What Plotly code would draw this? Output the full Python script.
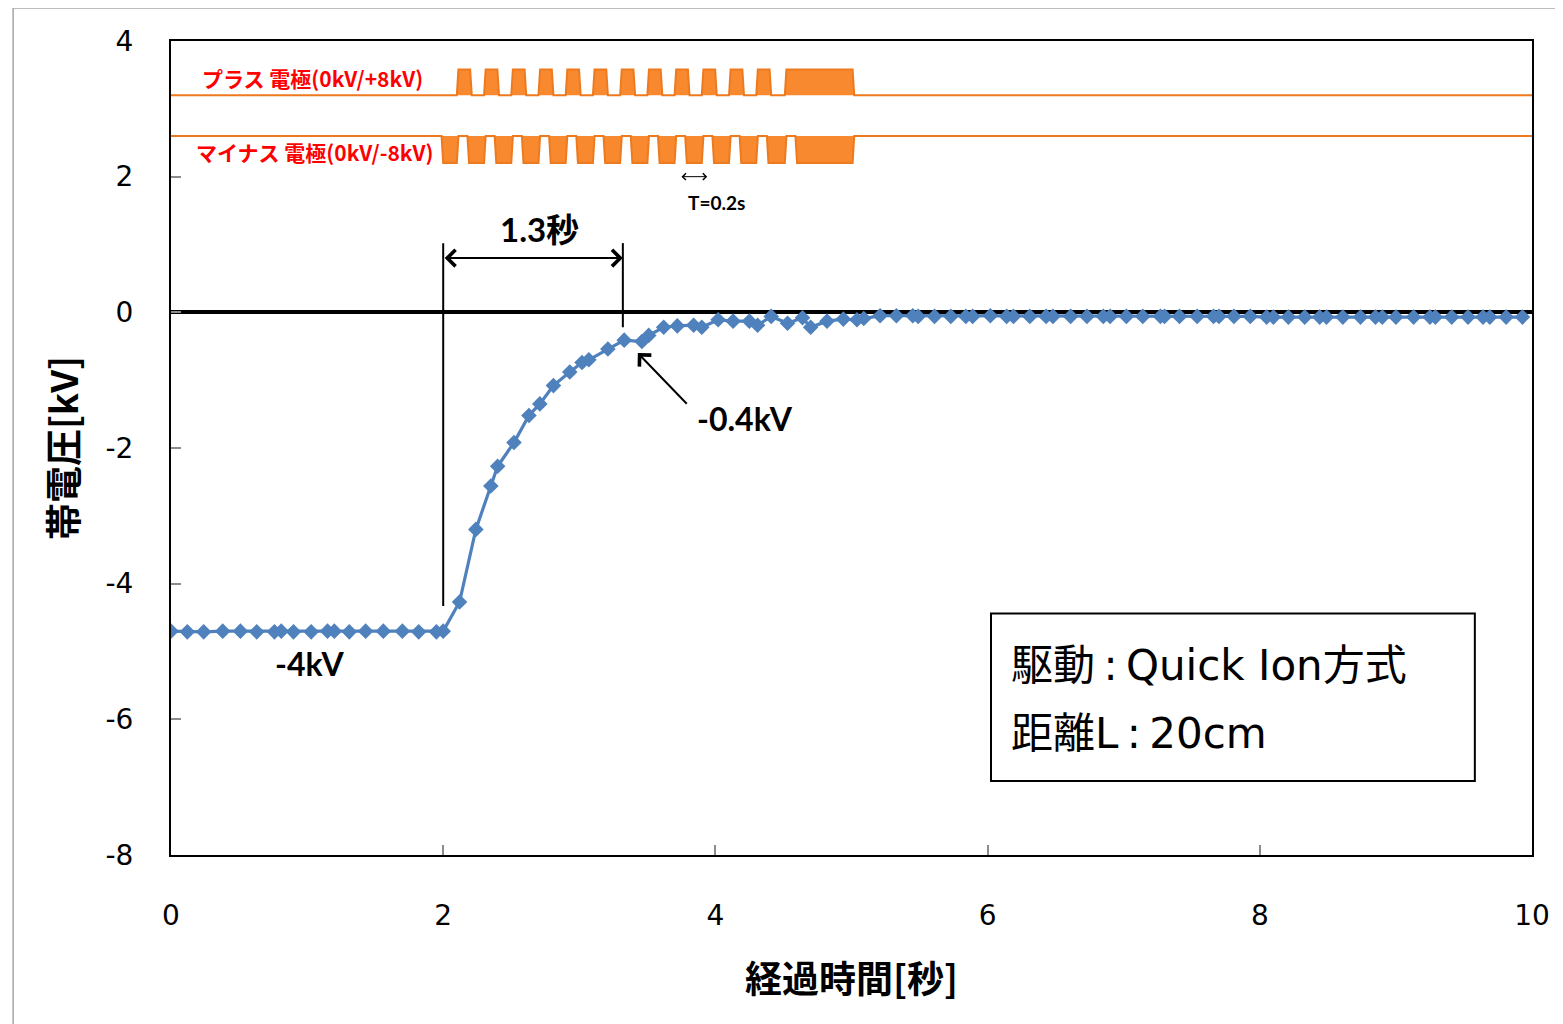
import plotly.graph_objects as go

# ---------------- data ----------------
time_s = [0.00, 0.12, 0.24, 0.38, 0.51, 0.63, 0.76, 0.81, 0.90, 1.03, 1.15, 1.20, 1.31, 1.43, 1.56, 1.70, 1.82, 1.95, 2.00,
          2.12, 2.24, 2.35, 2.40, 2.52, 2.63, 2.71, 2.81, 2.93, 3.02, 3.07, 3.21, 3.33, 3.46, 3.51, 3.62, 3.72, 3.84, 3.90,
          4.02, 4.13, 4.25, 4.31, 4.41, 4.53, 4.64, 4.70, 4.82, 4.94, 5.04, 5.09, 5.21, 5.33, 5.45, 5.49, 5.61, 5.73,
          5.84, 5.89, 6.02, 6.14, 6.19, 6.31, 6.43, 6.48, 6.61, 6.73, 6.85, 6.90, 7.02, 7.14, 7.27, 7.30, 7.41, 7.54,
          7.66, 7.70, 7.81, 7.93, 8.05, 8.10, 8.21, 8.33, 8.44, 8.49, 8.61, 8.74, 8.85, 8.90, 9.00, 9.13, 9.25, 9.29,
          9.41, 9.53, 9.64, 9.69, 9.81, 9.93]
voltage_kv = [-4.70, -4.71, -4.71, -4.70, -4.70, -4.71, -4.71, -4.70, -4.71, -4.71, -4.70, -4.70, -4.71, -4.70, -4.70, -4.70, -4.71, -4.71, -4.70,
              -4.27, -3.20, -2.56, -2.27, -1.92, -1.52, -1.35, -1.08, -0.88, -0.74, -0.70, -0.54, -0.41, -0.43, -0.34, -0.22, -0.20, -0.19, -0.22,
              -0.11, -0.13, -0.13, -0.19, -0.06, -0.16, -0.08, -0.22, -0.13, -0.10, -0.11, -0.09, -0.05, -0.05, -0.05, -0.06, -0.06, -0.06,
              -0.06, -0.06, -0.05, -0.06, -0.06, -0.06, -0.06, -0.06, -0.06, -0.06, -0.06, -0.06, -0.06, -0.06, -0.06, -0.06, -0.06, -0.06,
              -0.06, -0.06, -0.06, -0.06, -0.07, -0.07, -0.07, -0.07, -0.07, -0.07, -0.07, -0.07, -0.07, -0.07, -0.07, -0.07, -0.07, -0.07,
              -0.07, -0.07, -0.07, -0.07, -0.07, -0.07]

# electrode drive waveforms (schematic, drawn in kV-axis units)
plus_base, plus_high = 3.2, 3.58
plus_on_start = [2.10, 2.30, 2.50, 2.70, 2.90, 3.10, 3.30, 3.50, 3.70, 3.90, 4.10, 4.30]
plus_on_width = 0.11
plus_block = (4.51, 5.02)

minus_base, minus_low = 2.6, 2.2
minus_active = (2.00, 5.02)
minus_return_start = [2.10, 2.30, 2.50, 2.70, 2.90, 3.10, 3.30, 3.50, 3.70, 3.90, 4.10, 4.30, 4.51]
minus_return_width = 0.09

x_ticks = [0, 2, 4, 6, 8, 10]
y_ticks = [4, 2, 0, -2, -4, -6, -8]
y_tick_text = ["4", "2", "0", "-2", "-4", "-6", "-8"]

RAMP = 0.012
ORANGE_FILL = "#F8892E"
ORANGE_LINE = "#EE7A1F"
BLUE = "#4F81BD"

# ---------------- build waveforms ----------------
px, py = [0.0], [plus_base]
intervals = [(s, s + plus_on_width) for s in plus_on_start] + [plus_block]
for s, e in intervals:
    px += [s, s + RAMP, e - RAMP, e]
    py += [plus_base, plus_high, plus_high, plus_base]
px.append(10.0); py.append(plus_base)

mx, my = [0.0], [minus_base]
a0, a1 = minus_active
mx += [a0 - RAMP, a0]; my += [minus_base, minus_low]
for s in minus_return_start:
    e = s + minus_return_width
    mx += [s, s + RAMP, e - RAMP, e]
    my += [minus_low, minus_base, minus_base, minus_low]
mx += [a1 - RAMP, a1, 10.0]; my += [minus_low, minus_base, minus_base]

fig = go.Figure()
fig.add_trace(go.Scatter(x=px, y=py, mode="lines", fill="toself", fillcolor=ORANGE_FILL,
                         line=dict(color=ORANGE_LINE, width=2), hoverinfo="skip", showlegend=False))
fig.add_trace(go.Scatter(x=mx, y=my, mode="lines", fill="toself", fillcolor=ORANGE_FILL,
                         line=dict(color=ORANGE_LINE, width=2), hoverinfo="skip", showlegend=False))
fig.add_trace(go.Scatter(x=time_s, y=voltage_kv, mode="lines+markers",
                         line=dict(color=BLUE, width=3.2),
                         marker=dict(symbol="diamond", size=12, color=BLUE),
                         showlegend=False))

# ---------------- shapes ----------------
shapes = [
    # outer light frame
    dict(type="rect", xref="paper", yref="paper", x0=-0.116, x1=1.05, y0=-0.25, y1=1.0405,
         line=dict(color="#A6A6A6", width=1.5), fillcolor="rgba(0,0,0,0)", layer="below"),
    # vertical marker lines
    dict(type="line", xref="x", yref="y", x0=2.0, x1=2.0, y0=1.02, y1=-4.33, line=dict(color="black", width=2)),
    dict(type="line", xref="x", yref="y", x0=3.32, x1=3.32, y0=1.02, y1=-0.22, line=dict(color="black", width=2)),
    # info box
    dict(type="rect", xref="x", yref="y", x0=6.025, x1=9.58, y0=-4.44, y1=-6.91,
         line=dict(color="black", width=2), fillcolor="white"),
]

bold_font = dict(family="Lato, Noto Sans CJK JP", size=32, color="black")
box_font = dict(family="DejaVu Sans, Noto Sans CJK JP", size=42, color="black")
annotations = [
    # axis titles
    dict(text="<b>経過時間[秒]</b>", xref="paper", yref="paper", x=0.5, y=-0.150, showarrow=False,
         font=dict(family="Noto Sans CJK JP", size=37, color="black"), xanchor="center", yanchor="middle"),
    dict(text="<b>帯電圧[kV]</b>", xref="paper", yref="paper", x=-0.080, y=0.5, showarrow=False, textangle=-90,
         font=dict(family="Noto Sans CJK JP", size=37, color="black"), xanchor="center", yanchor="middle"),
    # double arrow 1.3 s
    dict(x=3.32, y=0.80, ax=2.0, ay=0.80, xref="x", yref="y", axref="x", ayref="y", text="",
         showarrow=True, arrowhead=4, arrowside="end+start", arrowsize=1.6, arrowwidth=2, arrowcolor="black"),
    dict(text="<b>1.3秒</b>", x=2.71, y=1.23, xref="x", yref="y", showarrow=False, font=dict(bold_font, size=33)),
    # -0.4kV arrow
    dict(x=3.43, y=-0.60, ax=3.80, ay=-1.37, xref="x", yref="y", axref="x", ayref="y", text="",
         showarrow=True, arrowhead=4, arrowsize=1.6, arrowwidth=2, arrowcolor="black"),
    dict(text="<b>-0.4kV</b>", x=4.22, y=-1.56, xref="x", yref="y", showarrow=False, font=bold_font),
    dict(text="<b>-4kV</b>", x=1.02, y=-5.18, xref="x", yref="y", showarrow=False, font=bold_font),
    # T = 0.2 s marker
    dict(x=3.94, y=2.0, ax=3.74, ay=2.0, xref="x", yref="y", axref="x", ayref="y", text="",
         showarrow=True, arrowhead=4, arrowside="end+start", arrowsize=1.3, arrowwidth=1, arrowcolor="black"),
    dict(text="<b>T=0.2s</b>", x=4.01, y=1.62, xref="x", yref="y", showarrow=False,
         font=dict(family="Lato, Noto Sans CJK JP", size=19, color="black")),
    # electrode labels
    dict(text="<b>プラス 電極(0kV/+8kV)</b>", x=0.21, y=3.46, xref="x", yref="y", xanchor="left", showarrow=False,
         font=dict(family="Noto Sans CJK JP", size=21, color="#FF0000")),
    dict(text="<b>マイナス 電極(0kV/-8kV)</b>", x=0.17, y=2.36, xref="x", yref="y", xanchor="left", showarrow=False,
         font=dict(family="Noto Sans CJK JP", size=21, color="#FF0000")),
    # box text
    dict(text="駆動\u2009:\u2009Quick Ion方式", x=6.16, y=-5.20, xref="x", yref="y", xanchor="left", showarrow=False,
         font=box_font),
    dict(text="距離L\u2009:\u200920cm", x=6.16, y=-6.21, xref="x", yref="y", xanchor="left", showarrow=False,
         font=box_font),
]

fig.update_layout(
    width=1563, height=1024,
    margin=dict(l=163, r=39, t=33, b=177),
    paper_bgcolor="white", plot_bgcolor="white",
    shapes=shapes, annotations=annotations,
    showlegend=False,
)
fig.update_xaxes(range=[0, 10], tickvals=x_ticks, ticktext=[str(v) for v in x_ticks],
                 showgrid=False, zeroline=False, showline=True, linecolor="black", linewidth=2, mirror=True,
                 ticks="inside", ticklen=10, tickcolor="#8C8C8C", tickwidth=1.5,
                 tickfont=dict(family="DejaVu Sans", size=28, color="black"), ticklabelstandoff=34)
fig.update_yaxes(range=[-8, 4], tickvals=y_ticks, ticktext=y_tick_text,
                 showgrid=False, zeroline=True, zerolinecolor="black", zerolinewidth=3.5,
                 showline=True, linecolor="black", linewidth=2, mirror=True,
                 ticks="inside", ticklen=10, tickcolor="#8C8C8C", tickwidth=1.5,
                 tickfont=dict(family="DejaVu Sans", size=28, color="black"), ticklabelstandoff=30)

fig.write_html("out.html")
